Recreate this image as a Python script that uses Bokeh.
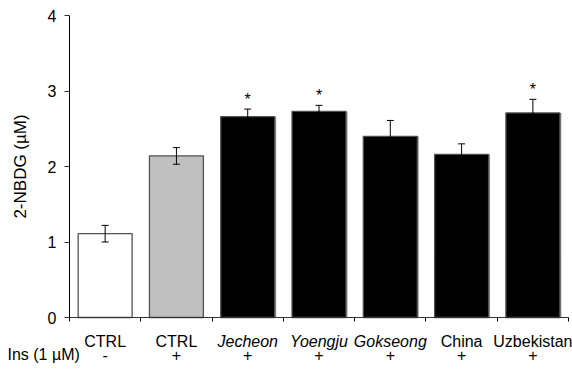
from bokeh.plotting import figure
from bokeh.models import Range1d, FixedTicker, ColumnDataSource, Whisker, TeeHead, LinearAxis
from bokeh.core.properties import value
from bokeh.embed import file_html
from bokeh.resources import INLINE

categories = ["CTRL", "CTRL", "Jecheon", "Yoengju", "Gokseong", "China", "Uzbekistan"]
italic = [False, False, True, True, True, False, False]
insulin = ["-", "+", "+", "+", "+", "+", "+"]
means = [1.11, 2.14, 2.66, 2.73, 2.40, 2.16, 2.71]
errors = [0.11, 0.11, 0.10, 0.08, 0.21, 0.14, 0.18]
significant = [False, False, True, True, False, False, True]
fills = ["#FFFFFF", "#C0C0C0", "#000000", "#000000", "#000000", "#000000", "#000000"]
yticks = [0, 1, 2, 3, 4]

FONT = "Liberation Sans"
W, H = 572, 373
XPX = 71.29   # px per category (layout)
YPX = 75.5    # px per y unit (layout)
X0, Y0 = 69, 317  # pixel position of the axes origin (layout)

n = len(categories)
xs = [i + 0.5 for i in range(n)]
src = ColumnDataSource(dict(
    x=xs, top=means, fill=fills,
    upper=[m + e for m, e in zip(means, errors)],
    lower=[m - e for m, e in zip(means, errors)],
))

p = figure(width=W, height=H, output_backend="svg", toolbar_location=None,
           x_range=Range1d(-X0 / XPX, (W - X0) / XPX),
           y_range=Range1d(-(H - Y0) / YPX, Y0 / YPX),
           min_border=0, x_axis_location=None, y_axis_location=None)
p.outline_line_color = None
p.grid.visible = False
p.background_fill_color = "white"
p.border_fill_color = "white"

# shadow behind black bars
sh_x = [x + 1.5 / XPX for x, f in zip(xs, fills) if f == "#000000"]
sh_t = [m for m, f in zip(means, fills) if f == "#000000"]
p.vbar(x=sh_x, top=sh_t, bottom=0, width=0.757, fill_color="#9a9a9a", line_color=None)

p.vbar(x="x", top="top", bottom=0, width=0.757, source=src, fill_color="fill",
       line_color="#505050", line_width=1.3)

w = Whisker(base="x", upper="upper", lower="lower", source=src, dimension="height",
            line_color="black", line_width=1, level="overlay",
            upper_head=TeeHead(size=7, line_color="black", line_width=1),
            lower_head=TeeHead(size=7, line_color="black", line_width=1))
p.add_layout(w)

sx = [x for x, s in zip(xs, significant) if s]
sy = [m + e + 10 / YPX for m, e, s in zip(means, errors, significant) if s]
p.text(x=sx, y=sy, text=["*"] * len(sx), text_align="center", text_baseline="alphabetic",
       text_font=value(FONT), text_font_size="16px", text_color="black")

# y axis at x = 0
yaxis = LinearAxis(fixed_location=0, ticker=FixedTicker(ticks=yticks), bounds=(0, 4))
yaxis.axis_label = "2-NBDG (µM)"
yaxis.axis_label_text_font = FONT
yaxis.axis_label_text_font_size = "17px"
yaxis.axis_label_text_font_style = "normal"
yaxis.axis_label_text_color = "black"
yaxis.axis_label_standoff = 15
yaxis.major_label_text_font = FONT
yaxis.major_label_text_font_size = "16px"
yaxis.major_label_text_color = "black"
yaxis.major_label_standoff = 8
yaxis.major_tick_out = 5
yaxis.major_tick_in = 0
yaxis.minor_tick_line_color = None
yaxis.axis_line_color = "black"
yaxis.major_tick_line_color = "#333333"
p.add_layout(yaxis, "left")

# x axis at y = 0
xaxis = LinearAxis(fixed_location=0, ticker=FixedTicker(ticks=list(range(n + 1))), bounds=(0, n))
xaxis.major_label_text_alpha = 0
xaxis.major_label_text_font_size = "1px"
xaxis.major_label_standoff = 0
xaxis.major_tick_out = 4
xaxis.major_tick_in = 0
xaxis.minor_tick_line_color = None
xaxis.axis_line_color = "#333333"
xaxis.major_tick_line_color = "black"
p.add_layout(xaxis, "below")

# category labels and insulin row
cat_y = -(341 - Y0) / YPX
ins_y = -(354 - Y0) / YPX
p.text(x=xs, y=[cat_y] * n, text=categories, text_align="center", text_baseline="alphabetic",
       text_font=value(FONT), text_font_size="16px",
       text_font_style=["italic" if it else "normal" for it in italic], text_color="black")
p.text(x=xs, y=[ins_y] * n, text=insulin, text_align="center", text_baseline="alphabetic",
       text_font=value(FONT), text_font_size="16px", text_color="black")
p.text(x=[(7 - X0) / XPX], y=[ins_y], text=["Ins (1 µM)"], text_align="left", text_baseline="alphabetic",
       text_font=value(FONT), text_font_size="16px", text_color="black")

open("out.html", "w").write(file_html(p, INLINE))
